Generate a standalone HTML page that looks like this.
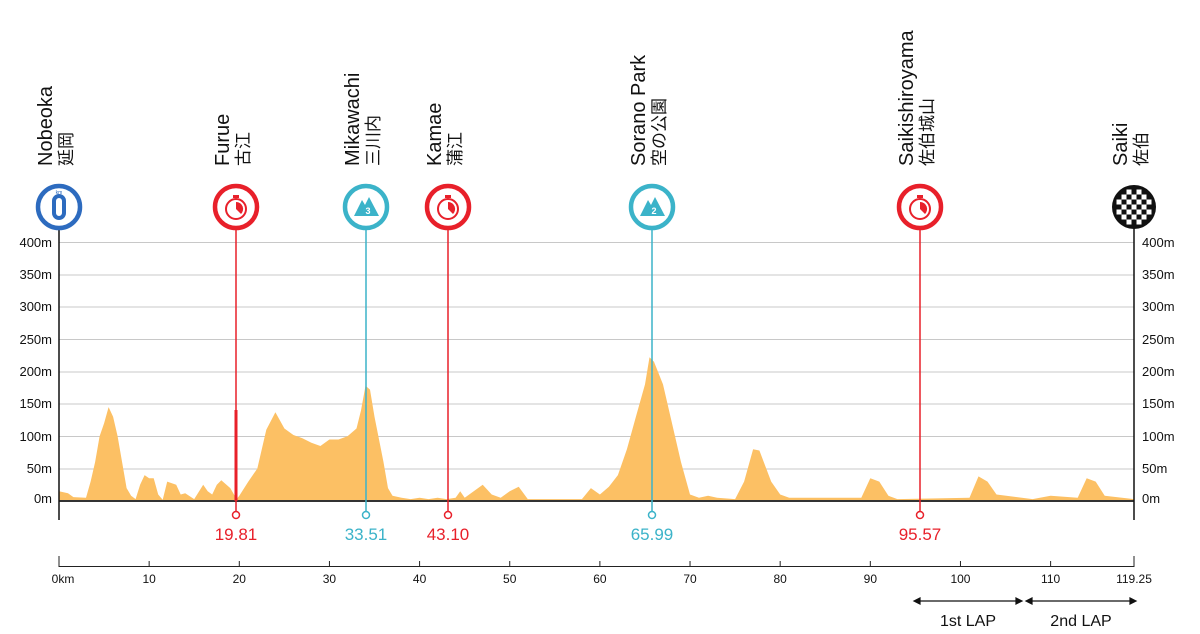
<!DOCTYPE html>
<html><head><meta charset="utf-8"><style>
html,body{margin:0;padding:0;background:#fff;}
svg{display:block;font-family:"Liberation Sans","Noto Sans CJK JP",sans-serif;}
</style></head><body>
<svg id="s" width="1200" height="634" viewBox="0 0 1200 634" xmlns="http://www.w3.org/2000/svg">
<g stroke="#c8c8c8" stroke-width="1">
<line x1="59" x2="1134" y1="242.5" y2="242.5"/><line x1="59" x2="1134" y1="275" y2="275"/>
<line x1="59" x2="1134" y1="307" y2="307"/><line x1="59" x2="1134" y1="339.5" y2="339.5"/>
<line x1="59" x2="1134" y1="372" y2="372"/><line x1="59" x2="1134" y1="404" y2="404"/>
<line x1="59" x2="1134" y1="436.5" y2="436.5"/><line x1="59" x2="1134" y1="469" y2="469"/>
</g>
<polygon id="prof" fill="#fcc064"/>
<line x1="59" x2="1134" y1="501" y2="501" stroke="#333" stroke-width="2"/>
<g font-size="13" fill="#111">
<text x="52" y="247" text-anchor="end">400m</text><text x="52" y="279" text-anchor="end">350m</text>
<text x="52" y="311" text-anchor="end">300m</text><text x="52" y="344" text-anchor="end">250m</text>
<text x="52" y="376" text-anchor="end">200m</text><text x="52" y="408" text-anchor="end">150m</text>
<text x="52" y="441" text-anchor="end">100m</text><text x="52" y="473" text-anchor="end">50m</text>
<text x="52" y="503" text-anchor="end">0m</text>
<text x="1142" y="247">400m</text><text x="1142" y="279">350m</text>
<text x="1142" y="311">300m</text><text x="1142" y="344">250m</text>
<text x="1142" y="376">200m</text><text x="1142" y="408">150m</text>
<text x="1142" y="441">100m</text><text x="1142" y="473">50m</text>
<text x="1142" y="503">0m</text>
</g>
<line x1="59" x2="59" y1="228" y2="520" stroke="#111" stroke-width="1.5"/>
<line x1="1134" x2="1134" y1="228" y2="520" stroke="#111" stroke-width="1.5"/>
<g stroke-width="1.5" fill="none">
<line x1="236" x2="236" y1="228" y2="512" stroke="#e8202a"/>
<rect x="234.5" y="410" width="3" height="91" fill="#e8202a" stroke="none"/>
<line x1="366" x2="366" y1="228" y2="512" stroke="#3bb3c9"/>
<line x1="448" x2="448" y1="228" y2="512" stroke="#e8202a"/>
<line x1="652" x2="652" y1="228" y2="512" stroke="#3bb3c9"/>
<line x1="920" x2="920" y1="228" y2="512" stroke="#e8202a"/>
<circle cx="236" cy="515" r="3.5" stroke="#e8202a" fill="#fff"/>
<circle cx="366" cy="515" r="3.5" stroke="#3bb3c9" fill="#fff"/>
<circle cx="448" cy="515" r="3.5" stroke="#e8202a" fill="#fff"/>
<circle cx="652" cy="515" r="3.5" stroke="#3bb3c9" fill="#fff"/>
<circle cx="920" cy="515" r="3.5" stroke="#e8202a" fill="#fff"/>
</g>
<g font-size="17" text-anchor="middle">
<text x="236" y="540" fill="#e8202a">19.81</text>
<text x="366" y="540" fill="#3bb3c9">33.51</text>
<text x="448" y="540" fill="#e8202a">43.10</text>
<text x="652" y="540" fill="#3bb3c9">65.99</text>
<text x="920" y="540" fill="#e8202a">95.57</text>
</g>
<g>
<circle cx="59" cy="207" r="21" fill="#fff" stroke="#2d6bbf" stroke-width="4.5"/>
<text x="59" y="194" font-size="5" fill="#2d6bbf" text-anchor="middle">km</text>
<rect x="54" y="196" width="10" height="22" rx="5" fill="none" stroke="#2d6bbf" stroke-width="4"/>
</g>
<g id="tt">
<circle cx="236" cy="207" r="21" fill="#fff" stroke="#e8202a" stroke-width="4.5"/>
<circle cx="236" cy="209" r="10" fill="none" stroke="#e8202a" stroke-width="2"/>
<path d="M236 209 L236 202 A7 7 0 0 1 241 214 Z" fill="#e8202a"/>
<rect x="233" y="195" width="6" height="3" fill="#e8202a"/>
</g>
<use href="#tt" x="212"/><use href="#tt" x="684"/>
<g id="mt">
<circle cx="366" cy="207" r="21" fill="#fff" stroke="#3bb3c9" stroke-width="4.5"/>
<path d="M354 216 L362 200 L365 205 L369 197 L379 216 Z" fill="#3bb3c9"/>
</g>
<text x="368" y="214" font-size="9" font-weight="bold" fill="#fff" text-anchor="middle">3</text>
<use href="#mt" x="286"/>
<text x="654" y="214" font-size="9" font-weight="bold" fill="#fff" text-anchor="middle">2</text>
<g>
<circle cx="1134" cy="207" r="22" fill="#111"/>
<g id="chk" fill="#fff"></g>
</g>
<g font-size="20" fill="#111">
<text transform="translate(52,166) rotate(-90)">Nobeoka</text>
<text transform="translate(229,166) rotate(-90)">Furue</text>
<text transform="translate(359,166) rotate(-90)">Mikawachi</text>
<text transform="translate(441,166) rotate(-90)">Kamae</text>
<text transform="translate(645,166) rotate(-90)">Sorano Park</text>
<text transform="translate(913,166) rotate(-90)">Saikishiroyama</text>
<text transform="translate(1127,166) rotate(-90)">Saiki</text>
</g>
<g font-size="17" fill="#111">
<text transform="translate(72,166) rotate(-90)">延岡</text>
<text transform="translate(249,166) rotate(-90)">古江</text>
<text transform="translate(379,166) rotate(-90)">三川内</text>
<text transform="translate(461,166) rotate(-90)">蒲江</text>
<text transform="translate(665,166) rotate(-90)">空の公園</text>
<text transform="translate(933,166) rotate(-90)">佐伯城山</text>
<text transform="translate(1147,166) rotate(-90)">佐伯</text>
</g>
<line x1="59" x2="1134" y1="566.5" y2="566.5" stroke="#222" stroke-width="1"/>
<g id="kt" stroke="#222"></g>
<g font-size="12" fill="#111" text-anchor="middle" id="kl"></g>
<g stroke="#111" stroke-width="1.2" fill="#111">
<line x1="916" x2="1020" y1="601" y2="601"/><path d="M914 601 l6 -3 v6z M1022 601 l-6 -3 v6z"/>
<line x1="1028" x2="1134" y1="601" y2="601"/><path d="M1026 601 l6 -3 v6z M1136 601 l-6 -3 v6z"/>
</g>
<g font-size="16" fill="#111" text-anchor="middle">
<text x="968" y="626">1st LAP</text><text x="1081" y="626">2nd LAP</text>
</g>
</svg>
<script>
var d=[[0,15],[1,12],[1.6,6],[3,5],[3.5,30],[4,60],[4.5,100],[5,120],[5.5,145],[6,130],[6.5,100],[7,60],[7.5,20],[8,8],[8.5,3],[9,25],[9.5,40],[10,35],[10.5,35],[11,10],[11.5,2],[12,30],[13,25],[13.5,10],[14,12],[15,3],[16,25],[16.5,15],[17,10],[17.5,25],[18,32],[19,20],[19.7,3],[20,8],[21,30],[22,50],[23,110],[24,137],[25,112],[26,102],[27,97],[28,90],[29,85],[30,95],[31,95],[32,100],[33,112],[33.5,140],[34,178],[34.5,172],[35,130],[36,60],[36.5,20],[37,8],[38,5],[39,3],[40,5],[41,3],[42,5],[43,3],[44,5],[44.5,15],[45,5],[46,15],[47,25],[48,10],[49,5],[50,15],[51,22],[52,3],[58,3],[59,20],[60,10],[61,22],[62,40],[63,80],[64,130],[65,180],[65.5,222],[66,215],[67,180],[68,120],[69,60],[70,10],[71,5],[72,8],[73,5],[75,3],[76,30],[77,80],[77.7,78],[79,30],[80,10],[81,5],[89,5],[90,35],[91,30],[92,8],[93,3],[101,5],[102,38],[103,30],[104,10],[108,3],[110,8],[113,5],[114,35],[115,30],[116,8],[119.25,3]];
function X(k){return 59+k*1075/119.25}function Y(m){return 501-m*0.6475}
var p=[[59,501]];d.forEach(function(a){p.push([X(a[0]),Y(a[1])])});p.push([1134,501]);
document.getElementById('prof').setAttribute('points',p.map(function(a){return a[0].toFixed(1)+','+a[1].toFixed(1)}).join(' '));
var ns="http://www.w3.org/2000/svg",kt=document.getElementById('kt'),kl=document.getElementById('kl');
for(var k=0;k<=110;k+=10){var l=document.createElementNS(ns,'line');l.setAttribute('x1',X(k));l.setAttribute('x2',X(k));l.setAttribute('y1',k==0?556:561);l.setAttribute('y2',567);kt.appendChild(l);
var t=document.createElementNS(ns,'text');t.setAttribute('x',k==0?X(k)+4:X(k));t.setAttribute('y',583);t.textContent=k==0?'0km':k;kl.appendChild(t);}
var l=document.createElementNS(ns,'line');l.setAttribute('x1',1134);l.setAttribute('x2',1134);l.setAttribute('y1',556);l.setAttribute('y2',567);kt.appendChild(l);
var t=document.createElementNS(ns,'text');t.setAttribute('x',1134);t.setAttribute('y',583);t.textContent='119.25';kl.appendChild(t);
var c=document.getElementById('chk');
for(var i=0;i<7;i++)for(var j=0;j<7;j++){if((i+j)%2)continue;var x=1134-17.5+i*5,y=207-17.5+j*5;if(Math.hypot(x+2.5-1134,y+2.5-207)>18)continue;var r=document.createElementNS(ns,'rect');r.setAttribute('x',x);r.setAttribute('y',y);r.setAttribute('width',5);r.setAttribute('height',5);c.appendChild(r);}
</script>
</body></html>
